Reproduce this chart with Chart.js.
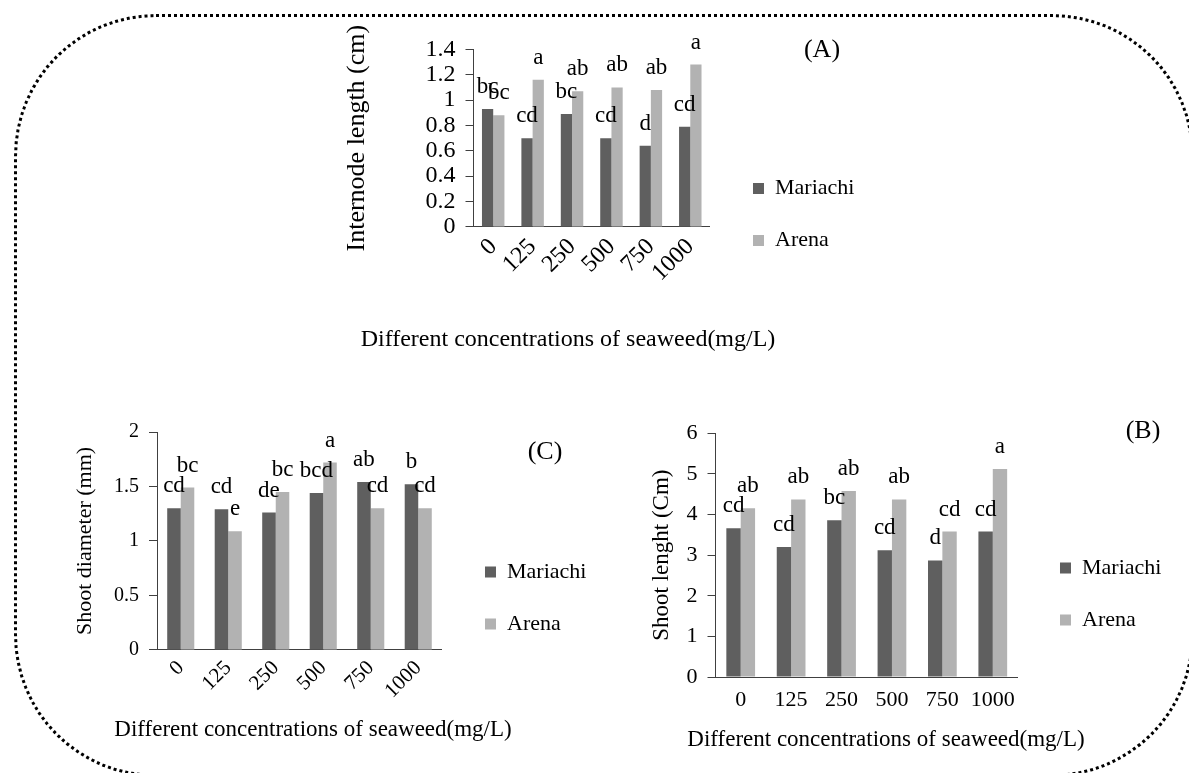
<!DOCTYPE html>
<html>
<head>
<meta charset="utf-8">
<script src="https://cdn.jsdelivr.net/npm/chart.js@4"></script>
<style>
html, body { margin: 0; padding: 0; width: 1189px; height: 773px; overflow: hidden; background: #fff; }
#frame { position: absolute; left: 14px; top: 14px; width: 1180px; height: 763px; box-sizing: border-box; border: 3px dotted #000; border-radius: 142px; }
canvas { position: absolute; }
</style>
</head>
<body>
<div id="frame"></div>
<canvas id="chartA" width="600" height="357" style="left:268px;top:25px"></canvas>
<canvas id="chartC" width="600" height="354" style="left:13px;top:410px"></canvas>
<canvas id="chartB" width="600" height="346" style="left:586px;top:410px"></canvas>
<script>
var concentrations = ['0', '125', '250', '500', '750', '1000'];
var xTitle = 'Different concentrations of seaweed(mg/L)';

// (A) internode length
var internodeMariachi = [0.93, 0.70, 0.89, 0.70, 0.64, 0.79];
var internodeArena = [0.88, 1.16, 1.07, 1.10, 1.08, 1.28];
var internodeMariachiLetters = ['bc', 'cd', 'bc', 'cd', 'd', 'cd'];
var internodeArenaLetters = ['bc', 'a', 'ab', 'ab', 'ab', 'a'];

// (C) shoot diameter
var diameterMariachi = [1.30, 1.29, 1.26, 1.44, 1.54, 1.52];
var diameterArena = [1.49, 1.09, 1.45, 1.72, 1.30, 1.30];
var diameterMariachiLetters = ['cd', 'cd', 'de', 'bcd', 'ab', 'b'];
var diameterArenaLetters = ['bc', 'e', 'bc', 'a', 'cd', 'cd'];

// (B) shoot length
var lengthMariachi = [3.66, 3.20, 3.86, 3.12, 2.87, 3.58];
var lengthArena = [4.15, 4.37, 4.58, 4.37, 3.58, 5.12];
var lengthMariachiLetters = ['cd', 'cd', 'bc', 'cd', 'd', 'cd'];
var lengthArenaLetters = ['ab', 'ab', 'ab', 'ab', 'cd', 'a'];

var colors = ['#5f5f5f', '#b2b2b2'];
var axisColor = '#404040';

Chart.defaults.font.family = '"Liberation Serif", "Times New Roman", serif';
Chart.defaults.color = '#000';

// significance letters above each bar
var barLetters = {
    id: 'barLetters',
    afterDatasetsDraw: function (chart, args, opts) {
        var ctx = chart.ctx;
        ctx.save();
        ctx.font = opts.size + 'px ' + Chart.defaults.font.family;
        ctx.fillStyle = '#000';
        ctx.textAlign = 'center';
        ctx.textBaseline = 'alphabetic';
        chart.data.datasets.forEach(function (ds, i) {
            chart.getDatasetMeta(i).data.forEach(function (bar, j) {
                ctx.fillText(ds.letters[j], bar.x, bar.y - opts.offset);
            });
        });
        ctx.restore();
    }
};

// (A) / (B) / (C) panel tag
var panelLabel = {
    id: 'panelLabel',
    afterDraw: function (chart, args, opts) {
        var ctx = chart.ctx, area = chart.chartArea;
        ctx.save();
        ctx.font = opts.size + 'px ' + Chart.defaults.font.family;
        ctx.fillStyle = '#000';
        ctx.textAlign = 'center';
        ctx.textBaseline = 'middle';
        ctx.fillText(opts.text, area.right + opts.dx, area.top + opts.dy);
        ctx.restore();
    }
};

// invisible axis used only to take up room on the right
function spacer(width, weight) {
    return {
        type: 'linear', position: 'right', weight: weight, display: false,
        afterFit: function (scale) { scale.width = width; }
    };
}

function tickText(value) {
    return String(Math.round(value * 100) / 100);
}

function barChart(canvasId, s) {
    return new Chart(document.getElementById(canvasId), {
        type: 'bar',
        data: {
            labels: concentrations,
            datasets: [
                { label: 'Mariachi', data: s.mariachi, letters: s.mariachiLetters, backgroundColor: colors[0],
                  borderWidth: 0, categoryPercentage: 0.57, barPercentage: 1 },
                { label: 'Arena', data: s.arena, letters: s.arenaLetters, backgroundColor: colors[1],
                  borderWidth: 0, categoryPercentage: 0.57, barPercentage: 1 }
            ]
        },
        options: {
            responsive: false,
            animation: false,
            devicePixelRatio: 1,
            layout: { padding: { top: 22, left: 0, right: 0, bottom: 0 } },
            scales: {
                x: {
                    grid: { display: false, drawTicks: false },
                    border: { color: axisColor, width: 1 },
                    ticks: { font: { size: s.xTickSize }, color: '#000', minRotation: s.rot, maxRotation: s.rot,
                             padding: s.xTickPad, autoSkip: false }
                },
                y: {
                    min: 0, max: s.max,
                    ticks: { stepSize: s.step, font: { size: s.yTickSize }, color: '#000', padding: 10,
                             autoSkip: false, callback: tickText },
                    grid: { drawOnChartArea: false, drawTicks: true, tickLength: 8, color: axisColor },
                    border: { color: axisColor, width: 1 },
                    title: { display: true, text: s.yTitle, color: '#000', font: { size: s.yTitleSize },
                             padding: { top: s.yTitlePad, bottom: 0 } },
                    afterFit: function (scale) { scale.width = s.yWidth; }
                },
                gap: spacer(s.gap, 0),
                pad: spacer(s.pad, 2000)
            },
            plugins: {
                legend: {
                    position: 'right', align: 'center',
                    labels: { color: '#000', font: { size: 22 }, boxWidth: 11, boxHeight: 11, padding: 30 }
                },
                title: {
                    display: true, position: 'bottom', text: xTitle, color: '#000',
                    font: { size: s.xTitleSize, weight: 'normal' },
                    padding: { top: s.xTitleTop, bottom: s.xTitleBottom }
                },
                tooltip: { enabled: false },
                barLetters: { size: 23, offset: 16 },
                panelLabel: { text: s.tag, dx: s.tagDx, dy: s.tagDy, size: 26 }
            }
        },
        plugins: [barLetters, panelLabel]
    });
}

barChart('chartA', {
    mariachi: internodeMariachi, arena: internodeArena,
    mariachiLetters: internodeMariachiLetters, arenaLetters: internodeArenaLetters,
    max: 1.4, step: 0.2, yTitle: 'Internode length (cm)', yTitleSize: 26, yTitlePad: 73.4, yWidth: 205.5,
    yTickSize: 24, xTickSize: 24, rot: 45, xTickPad: 6,
    xTitleSize: 24, xTitleTop: 32, xTitleBottom: 28,
    gap: 13, pad: 3.6, tag: '(A)', tagDx: 112, tagDy: 1
});

barChart('chartC', {
    mariachi: diameterMariachi, arena: diameterArena,
    mariachiLetters: diameterMariachiLetters, arenaLetters: diameterArenaLetters,
    max: 2, step: 0.5, yTitle: 'Shoot diameter (mm)', yTitleSize: 22, yTitlePad: 58.8, yWidth: 144,
    yTickSize: 20, xTickSize: 21, rot: 45, xTickPad: 6,
    xTitleSize: 23, xTitleTop: 7, xTitleBottom: 20,
    gap: 13, pad: 16.6, tag: '(C)', tagDx: 103, tagDy: 20
});

barChart('chartB', {
    mariachi: lengthMariachi, arena: lengthArena,
    mariachiLetters: lengthMariachiLetters, arenaLetters: lengthArenaLetters,
    max: 6, step: 1, yTitle: 'Shoot lenght (Cm)', yTitleSize: 23, yTitlePad: 62.2, yWidth: 129.5,
    yTickSize: 22, xTickSize: 22, rot: 0, xTickPad: 10,
    xTitleSize: 23, xTitleTop: 3, xTitleBottom: 2,
    gap: 12, pad: 14.6, tag: '(B)', tagDx: 125, tagDy: -2
});
</script>
</body>
</html>
